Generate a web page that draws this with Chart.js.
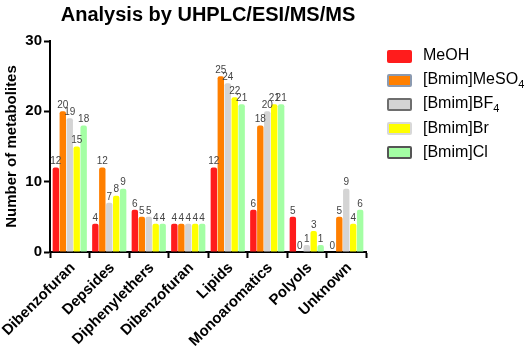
<!DOCTYPE html>
<html>
<head>
<meta charset="utf-8">
<script src="https://cdn.jsdelivr.net/npm/chart.js@4.4.1/dist/chart.umd.min.js"></script>
<style>
html,body{margin:0;padding:0;background:#fff;}
#wrap{width:532px;height:346px;position:relative;font-family:'Liberation Sans', Arial, sans-serif;}
#legend{position:absolute;left:387px;top:0;}
.row{position:absolute;left:0;height:24px;white-space:nowrap;}
.box{position:absolute;left:0;width:25px;height:13px;box-sizing:border-box;border-radius:2px;}
.txt{position:absolute;left:36px;font-size:16px;line-height:20px;color:#000;}
.txt sub{font-size:11px;vertical-align:-4px;line-height:0;}
</style>
</head>
<body>
<div id="wrap"><canvas id="c" width="532" height="346"></canvas><div id="legend"></div></div>
<script>
const categories = ["Dibenzofuran","Depsides","Diphenylethers","Dibenzofuran","Lipids","Monoaromatics","Polyols","Unknown"];
const seriesNames = ["MeOH","[Bmim]MeSO\u2084","[Bmim]BF\u2084","[Bmim]Br","[Bmim]Cl"];
const legendHtml = ["MeOH","[Bmim]MeSO<sub>4</sub>","[Bmim]BF<sub>4</sub>","[Bmim]Br","[Bmim]Cl"];
const meoh   = [12, 4, 6, 4, 12, 6, 5, 0];
const meso4  = [20, 12, 5, 4, 25, 18, 0, 5];
const bf4    = [19, 7, 5, 4, 24, 20, 1, 9];
const br     = [15, 8, 4, 4, 22, 21, 3, 4];
const cl     = [18, 9, 4, 4, 21, 21, 1, 6];
const yTicks = [0, 10, 20, 30];

const fills   = ["#ff1c1c","#ff7f00","#d4d4d4","#ffff00","#a4ffa4"];
const strokes = ["#ff1c1c","#8b9ab0","#6e6e6e","#d8d8d8","#555555"];
const FONT = "'Liberation Sans', Arial, sans-serif";

// HTML legend (for true subscripts)
const legendEl = document.getElementById('legend');
seriesNames.forEach((name, i) => {
  const cy = 56 + i * 24.2;
  const row = document.createElement('div');
  row.className = 'row';
  row.style.top = (cy - 12) + 'px';
  const box = document.createElement('span');
  box.className = 'box';
  box.style.top = '5.5px';
  box.style.background = fills[i];
  box.style.border = i === 0 ? 'none' : ('2px solid ' + strokes[i]);
  const txt = document.createElement('span');
  txt.className = 'txt';
  txt.style.top = '1px';
  txt.innerHTML = legendHtml[i];
  row.appendChild(box); row.appendChild(txt);
  legendEl.appendChild(row);
});

const valueLabels = {
  id: 'valueLabels',
  afterDatasetsDraw(chart) {
    const ctx = chart.ctx;
    ctx.save();
    ctx.font = "10px " + FONT;
    ctx.fillStyle = "#444";
    ctx.textAlign = "center";
    ctx.textBaseline = "bottom";
    chart.data.datasets.forEach((ds, i) => {
      const meta = chart.getDatasetMeta(i);
      meta.data.forEach((bar, j) => {
        ctx.fillText(String(ds.data[j]), bar.x, bar.y - 1);
      });
    });
    ctx.restore();
  }
};

const seriesData = [meoh, meso4, bf4, br, cl];
new Chart(document.getElementById('c'), {
  type: 'bar',
  data: {
    labels: categories,
    datasets: seriesData.map((d, i) => ({
      label: seriesNames[i],
      data: d,
      backgroundColor: fills[i],
      borderWidth: 0,
      borderRadius: {topLeft: 2, topRight: 2, bottomLeft: 0, bottomRight: 0},
      borderSkipped: false,
      categoryPercentage: 0.88,
      barPercentage: 0.92
    }))
  },
  options: {
    responsive: false,
    animation: false,
    devicePixelRatio: 1,
    layout: {padding: {left: 0, right: 166, top: 3, bottom: 0}},
    plugins: {
      title: {
        display: true,
        text: "Analysis by UHPLC/ESI/MS/MS",
        fullSize: false,
        color: "#000",
        font: {family: FONT, size: 20, weight: 'bold'},
        padding: {top: 0, bottom: 14}
      },
      legend: {display: false},
      tooltip: {enabled: false}
    },
    scales: {
      x: {
        afterFit(scale) { scale.height = 94; scale.paddingLeft = 0; scale.paddingRight = 0; },
        grid: {display: true, drawOnChartArea: false, drawTicks: true, tickLength: 6, tickWidth: 2, tickColor: "#000"},
        border: {display: true, color: "#000", width: 2},
        ticks: {
          color: "#000",
          font: {family: FONT, size: 15, weight: 'bold'},
          minRotation: 45, maxRotation: 45, autoSkip: false, padding: 1, labelOffset: 3
        }
      },
      y: {
        min: 0, max: 30,
        afterFit(scale) { scale.width = 50; scale.paddingTop = 0; scale.paddingBottom = 0; },
        afterBuildTicks(axis) { axis.ticks = yTicks.map(v => ({value: v})); },
        grid: {display: true, drawOnChartArea: false, drawTicks: true, tickLength: 6, tickWidth: 2, tickColor: "#000"},
        border: {display: true, color: "#000", width: 2},
        ticks: {color: "#000", font: {family: FONT, size: 15, weight: 'bold'}, padding: 2},
        title: {display: true, text: "Number of metabolites", color: "#000", font: {family: FONT, size: 15, weight: 'bold'}, padding: {top: 3, bottom: 2}}
      }
    }
  },
  plugins: [valueLabels]
});
</script>
</body>
</html>
